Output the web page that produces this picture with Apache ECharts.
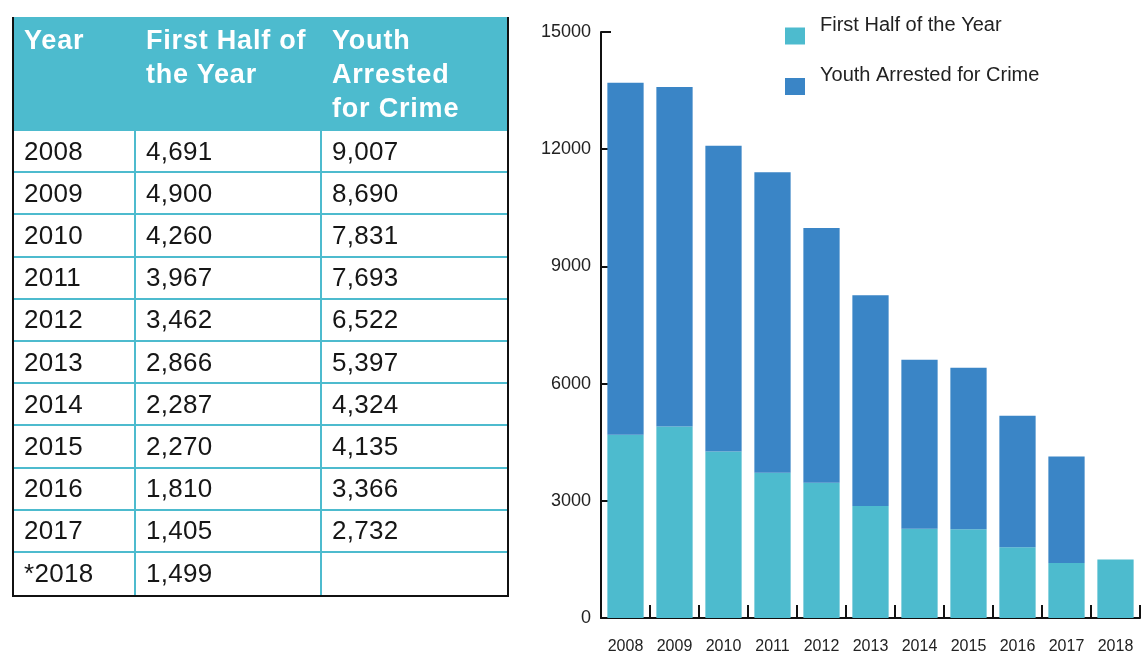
<!DOCTYPE html>
<html>
  <head>
    <meta charset="utf-8" />
    <title>Youth Arrested for Crime</title>
    <script src="https://cdn.jsdelivr.net/npm/echarts@6/dist/echarts.min.js"></script>
    <style>
      body { margin: 0; background: #fff; font-family: "Liberation Sans", Arial, sans-serif; }
      #main { position: absolute; left: 0; top: 0; width: 1147px; height: 655px; }
      #tbl {
        position: absolute; left: 12px; top: 17px; width: 497px;
        border-collapse: separate; border-spacing: 0; table-layout: fixed;
        border-left: 2px solid #111; border-right: 2px solid #111; border-bottom: 2px solid #111;
        box-sizing: border-box;
      }
      #tbl th {
        background: #4dbbce; color: #fff; font-weight: bold; font-size: 27px; letter-spacing: 0.8px;
        line-height: 34px; text-align: left; vertical-align: top;
        padding: 6px 0 6px 10px; height: 114px; box-sizing: border-box;
      }
      #tbl td {
        font-size: 26px; color: #161616; height: 42.2px; padding: 0 0 0 10px; letter-spacing: 0.3px;
        border-right: 2px solid #4dbbce; border-bottom: 2px solid #4dbbce;
        box-sizing: border-box; vertical-align: middle;
      }
      #tbl td:last-child { border-right: none; }
      #tbl tr:last-child td { border-bottom: none; }
    </style>
  </head>
  <body>
    <div id="main"></div>
    <table id="tbl"></table>
    <script type="text/javascript">
      // table (as printed)
      var headers = ['Year', 'First Half of the Year', 'Youth Arrested for Crime'];
      var headerLines = [['Year'], ['First Half of', 'the Year'], ['Youth', 'Arrested', 'for Crime']];
      var yearLabels = ['2008', '2009', '2010', '2011', '2012', '2013', '2014', '2015', '2016', '2017', '*2018'];
      var firstHalfText = ['4,691', '4,900', '4,260', '3,967', '3,462', '2,866', '2,287', '2,270', '1,810', '1,405', '1,499'];
      var arrestedText = ['9,007', '8,690', '7,831', '7,693', '6,522', '5,397', '4,324', '4,135', '3,366', '2,732', ''];

      // chart (as drawn)
      var years = ['2008', '2009', '2010', '2011', '2012', '2013', '2014', '2015', '2016', '2017', '2018'];
      var firstHalf = [4691, 4900, 4260, 3720, 3462, 2866, 2287, 2270, 1810, 1405, 1499];
      var arrested = [9007, 8690, 7831, 7693, 6522, 5397, 4324, 4135, 3366, 2732, null];

      var colWidths = [122, 186, 185];
      var tbl = document.getElementById('tbl');
      var html = '<colgroup>';
      colWidths.forEach(function (w) { html += '<col style="width:' + w + 'px">'; });
      html += '</colgroup><tr>';
      headerLines.forEach(function (lines) { html += '<th>' + lines.join('<br>') + '</th>'; });
      html += '</tr>';
      for (var i = 0; i < yearLabels.length; i++) {
        html += '<tr><td>' + yearLabels[i] + '</td><td>' + firstHalfText[i] + '</td><td>' + arrestedText[i] + '</td></tr>';
      }
      tbl.innerHTML = html;

      var myChart = echarts.init(document.getElementById('main'));
      var option = {
        animation: false,
        textStyle: { fontFamily: 'Liberation Sans' },
        legend: {
          orient: 'vertical',
          left: 780,
          top: 10,
          icon: 'rect',
          itemWidth: 20,
          itemHeight: 17,
          itemGap: 21,
          formatter: '{t|{name}}',
          textStyle: {
            rich: { t: { fontSize: 20, color: '#222', padding: [0, 0, 22, 10] } }
          },
          data: [headers[1], headers[2]]
        },
        grid: { left: 601, top: 32, width: 539, height: 589 },
        xAxis: {
          type: 'category',
          data: years,
          axisLine: { lineStyle: { color: '#111', width: 2 } },
          axisTick: { show: true, inside: true, length: 13, interval: 0, lineStyle: { color: '#111', width: 2 } },
          axisLabel: { fontSize: 16, color: '#222', margin: 21, interval: 0 }
        },
        yAxis: {
          type: 'value',
          min: 0,
          max: 15000,
          interval: 3000,
          axisLine: { show: true, lineStyle: { color: '#111', width: 2 } },
          axisTick: { show: true, inside: true, length: 10, lineStyle: { color: '#111', width: 2 } },
          axisLabel: { fontSize: 18, color: '#222', margin: 10, formatter: function (v) { return String(v); } },
          splitLine: { show: false }
        },
        series: [
          {
            name: headers[1],
            type: 'bar',
            stack: 'total',
            barWidth: '74%',
            itemStyle: { color: '#4dbbce' },
            data: firstHalf
          },
          {
            name: headers[2],
            type: 'bar',
            stack: 'total',
            barWidth: '74%',
            itemStyle: { color: '#3a85c6' },
            data: arrested
          }
        ]
      };
      myChart.setOption(option);
    </script>
  </body>
</html>
